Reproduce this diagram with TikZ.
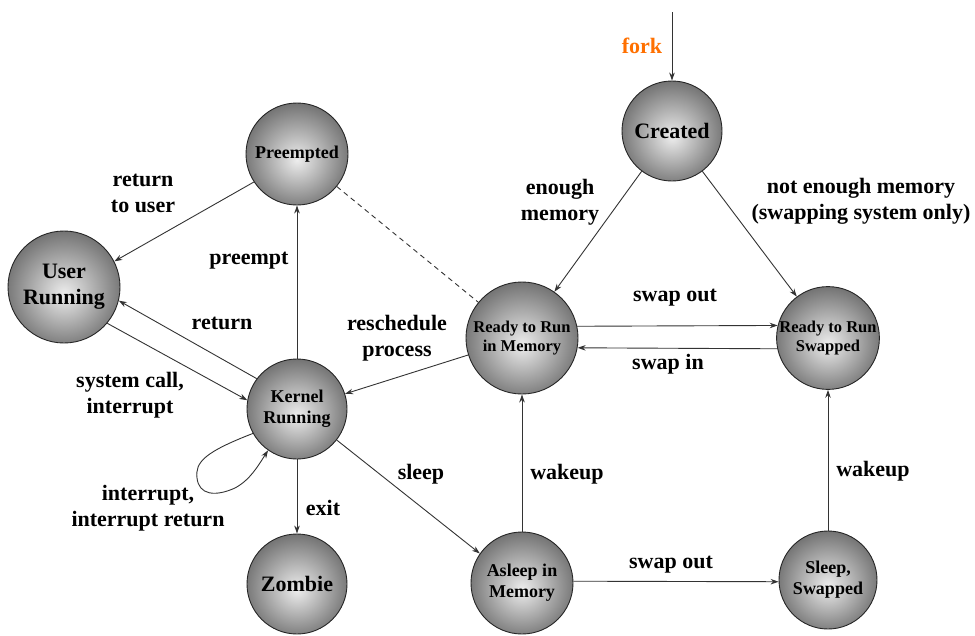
\documentclass[tikz,border=0pt]{standalone}
\usepackage{fontspec}
\setmainfont{Liberation Serif}
\usetikzlibrary{arrows.meta}
\definecolor{shlight}{HTML}{EDEDED}
\definecolor{shdark}{HTML}{6C6C6C}
\definecolor{forkorange}{HTML}{FF7000}
\definecolor{linegray}{HTML}{333333}
\pgfdeclareradialshading{ballgray}{\pgfpoint{0bp}{-3bp}}{color(0bp)=(shlight); color(28bp)=(shdark); color(50bp)=(shdark)}
\begin{document}
\begin{tikzpicture}[x=1pt,y=-1pt,
  state/.style={circle, draw=black!85, line width=0.9pt, shading=ballgray, inner sep=0pt, align=center},
  fbig/.style={font=\fontsize{22}{26}\selectfont\bfseries},
  fmid/.style={font=\fontsize{18}{21}\selectfont\bfseries},
  fsmall/.style={font=\fontsize{16.5}{19.5}\selectfont\bfseries},
  lbl/.style={font=\fontsize{22}{26}\selectfont\bfseries, align=center, inner sep=0pt},
  arr/.style={draw=linegray, line width=0.9pt, -{Stealth[length=8pt,width=5.5pt]}},
  dline/.style={draw=linegray, line width=0.9pt, dash pattern=on 5pt off 4pt}]
\useasboundingbox (0,0) rectangle (975,635);

% states
\node[state, fbig, minimum size=100pt] (cr) at (672,131) {Created};
\node[state, fmid, minimum size=102pt] (pre) at (297,154) {Preempted};
\node[state, fbig, minimum size=112pt] (ur) at (64,287) {User\\Running};
\node[state, fmid, minimum size=100pt] (kr) at (297,409) {Kernel\\Running};
\node[state, fsmall, minimum size=112pt] (rm) at (522,338) {Ready to Run\\in Memory};
\node[state, fsmall, minimum size=100pt] (rs) at (828,338) {Ready to Run\\Swapped};
\node[state, fbig, minimum size=100pt] (zb) at (297,584) {Zombie};
\node[state, fmid, minimum size=102pt] (as) at (522,583) {Asleep in\\Memory};
\node[state, fmid, minimum size=98pt] (ss) at (828,580) {Sleep,\\Swapped};

% connectors
\coordinate (forktop) at (672,12);
\draw[arr] (forktop) -- (cr);
\draw[arr] (cr.233) -- (rm.55);
\draw[arr] (cr.307) -- (rs.127);
\draw[arr] (rm.12) -- (rs.166);
\draw[arr] (rs.192) -- (rm.350);
\draw[arr] (rm) -- (kr);
\draw[dline] (pre) -- (rm);
\draw[arr] (kr) -- (pre);
\draw[arr] (pre.213) -- (ur.27);
\draw[arr] (kr.143) -- (ur.-14);
\draw[arr] (ur.-40) -- (kr.170);
\draw[arr] (kr) -- (zb);
\draw[arr] (kr.-38) -- (as.145);
\draw[arr] (as) -- (rm);
\draw[arr] (as.2) -- (ss.182);
\draw[arr] (ss) -- (rs);
\draw[arr] (kr.209) .. controls (205,452) and (195,462) .. (197,478)
   .. controls (199,495) and (215,497) .. (235,488)
   .. controls (250,480) and (258,466) .. (kr.235);

% labels
\node[lbl, text=forkorange] (lfork) at (642,46) {fork};
\node[lbl] (lenough) at (560,202) {enough\\memory};
\node[lbl] (lnotenough) at (861,201) {not enough memory\\(swapping system only)};
\node[lbl] (lswapout1) at (675,298) {swap out};
\node[lbl] (lswapin) at (668,364) {swap in};
\node[lbl] (lresched) at (397,338) {reschedule\\process};
\node[lbl] (lrettouser) at (143,193) {return\\to user};
\node[lbl] (lpreempt) at (249,261) {preempt};
\node[lbl] (lreturn) at (222,323) {return};
\node[lbl] (lsyscall) at (130,395) {system call,\\interrupt};
\node[lbl] (lintr) at (148,508) {interrupt,\\interrupt return};
\node[lbl] (lexit) at (323,508) {exit};
\node[lbl] (lsleep) at (421,474) {sleep};
\node[lbl] (lwake1) at (567,474) {wakeup};
\node[lbl] (lwake2) at (873,471) {wakeup};
\node[lbl] (lswapout2) at (671,565) {swap out};
\end{tikzpicture}
\end{document}
